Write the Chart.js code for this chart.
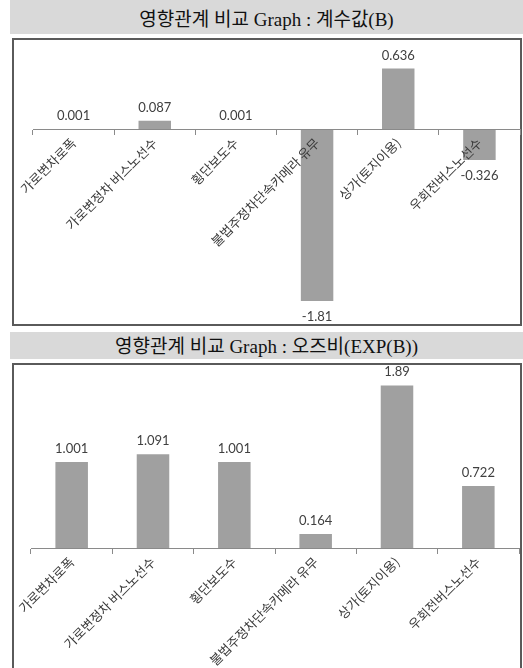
<!DOCTYPE html>
<html>
<head>
<meta charset="utf-8">
<script src="https://cdn.jsdelivr.net/npm/chart.js@4"></script>
<style>
html,body{margin:0;padding:0;background:#fff;width:523px;height:668px;overflow:hidden;position:relative;}
.tbar{position:absolute;left:10px;width:513px;background:#d9d9d9;text-align:center;
  font-family:"Liberation Serif","Noto Sans CJK KR",serif;font-size:19px;color:#111;white-space:nowrap;}
.box{position:absolute;left:12px;width:510px;border:2px solid #5a5a5a;box-sizing:border-box;background:#fff;}
.cw{position:absolute;left:0;width:523px;}
</style>
</head>
<body>
<div class="tbar" style="top:0;height:34px;line-height:40px;">영향관계 비교 Graph : 계수값(B)</div>
<div class="box" style="top:38px;height:288px;"></div>
<div class="tbar" style="top:332px;height:27px;line-height:29px;">영향관계 비교 Graph : 오즈비(EXP(B))</div>
<div class="box" style="top:363px;height:400px;"></div>
<div class="cw" style="top:40px;height:285px;"><canvas id="c1" width="523" height="285"></canvas></div>
<div class="cw" style="top:364px;height:304px;"><canvas id="c2" width="523" height="304"></canvas></div>
<script>
const categories = ["가로변차로폭", "가로변정차 버스노선수", "횡단보도수", "불법주정차단속카메라 유무", "상가(토지이용)", "우회전버스노선수"];
const coefB = [0.001, 0.087, 0.001, -1.81, 0.636, -0.326];
const oddsRatio = [1.001, 1.091, 1.001, 0.164, 1.89, 0.722];

const valueLabels = {
  id: 'valueLabels',
  afterDatasetsDraw(chart) {
    const ctx = chart.ctx;
    const meta = chart.getDatasetMeta(0);
    const data = chart.data.datasets[0].data;
    ctx.save();
    ctx.font = '13px Lato, "Liberation Sans", sans-serif';
    ctx.fillStyle = '#404040';
    ctx.textAlign = 'center';
    ctx.textBaseline = 'alphabetic';
    meta.data.forEach((bar, i) => {
      const v = data[i];
      const txt = String(v);
      if (v >= 0) ctx.fillText(txt, bar.x, Math.min(bar.y, bar.base) - 9);
      else ctx.fillText(txt, bar.x, Math.max(bar.y, bar.base) + 20);
    });
    ctx.restore();
  }
};

function makeChart(id, values, yMin, yMax, pad) {
  return new Chart(document.getElementById(id), {
    type: 'bar',
    data: {
      labels: categories,
      datasets: [{
        data: values,
        backgroundColor: '#a0a0a0',
        borderWidth: 0,
        categoryPercentage: 1.0,
        barPercentage: 0.4
      }]
    },
    options: {
      responsive: false,
      devicePixelRatio: 1,
      animation: false,
      layout: { padding: pad },
      plugins: { legend: { display: false }, tooltip: { enabled: false }, title: { display: false } },
      scales: {
        x: {
          position: { y: 0 },
          offset: true,
          grid: { display: true, drawOnChartArea: false, drawTicks: true, tickLength: 5, color: '#8a8a8a', offset: true, lineWidth: 1, z: 1 },
          border: { display: true, color: '#8a8a8a', width: 1, z: 1 },
          ticks: {
            z: 1,
            autoSkip: false,
            minRotation: 45,
            maxRotation: 45,
            padding: 1,
            color: '#3a3a3a',
            font: { family: '"Noto Sans CJK KR", sans-serif', size: 13 }
          },
          afterFit(scale) { scale.height = 0; scale.paddingLeft = 0; scale.paddingRight = 0; }
        },
        y: {
          display: false,
          min: yMin,
          max: yMax
        }
      }
    },
    plugins: [valueLabels]
  });
}

makeChart('c1', coefB, -2.0, 0.8, { left: 33, right: 3, top: 13, bottom: 6 });
makeChart('c2', oddsRatio, 0, 2.0, { left: 31, right: 4, top: 12, bottom: 120 });
</script>
</body>
</html>
